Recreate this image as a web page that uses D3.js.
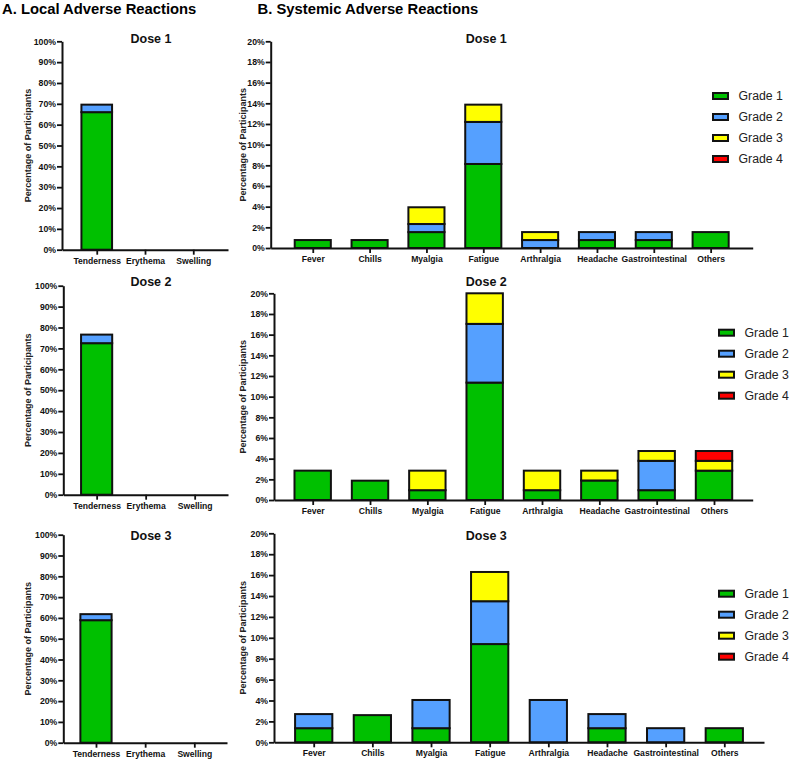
<!DOCTYPE html>
<html>
<head>
<meta charset="utf-8">
<script src="https://cdn.jsdelivr.net/npm/d3@7"></script>
<style>
  body { margin: 0; background: #fff; }
  text { font-family: "Liberation Sans", Arial, sans-serif; }
</style>
</head>
<body>
<script>
// categories + tick values
var localCats = ["Tenderness", "Erythema", "Swelling"];
var sysCats = ["Fever", "Chills", "Myalgia", "Fatigue", "Arthralgia", "Headache", "Gastrointestinal", "Others"];
var grades = ["Grade 1", "Grade 2", "Grade 3", "Grade 4"];
var gradeColors = ["#00c000", "#55a0ff", "#ffff00", "#ff0000"];
var localTicks = [0, 10, 20, 30, 40, 50, 60, 70, 80, 90, 100];
var sysTicks = [0, 2, 4, 6, 8, 10, 12, 14, 16, 18, 20];

// % of participants, one row per category: [grade1, grade2, grade3, grade4]
var localDose1 = [[66, 3.6, 0, 0], [0, 0, 0, 0], [0, 0, 0, 0]];
var localDose2 = [[72.5, 4.1, 0, 0], [0, 0, 0, 0], [0, 0, 0, 0]];
var localDose3 = [[58.9, 2.9, 0, 0], [0, 0, 0, 0], [0, 0, 0, 0]];

var sysDose1 = [
  [0.77, 0, 0, 0],
  [0.77, 0, 0, 0],
  [1.54, 0.78, 1.62, 0],
  [8.13, 4.07, 1.67, 0],
  [0, 0.77, 0.77, 0],
  [0.77, 0.77, 0, 0],
  [0.77, 0.77, 0, 0],
  [1.54, 0, 0, 0]
];
var sysDose2 = [
  [2.84, 0, 0, 0],
  [1.87, 0, 0, 0],
  [0.95, 0, 1.89, 0],
  [11.36, 5.68, 2.96, 0],
  [0.95, 0, 1.89, 0],
  [1.89, 0, 0.95, 0],
  [0.95, 2.84, 0.95, 0],
  [2.84, 0, 0.95, 0.95]
];
var sysDose3 = [
  [1.35, 1.35, 0, 0],
  [2.6, 0, 0, 0],
  [1.35, 2.7, 0, 0],
  [9.4, 4.1, 2.8, 0],
  [0, 4.05, 0, 0],
  [1.35, 1.35, 0, 0],
  [0, 1.35, 0, 0],
  [1.35, 0, 0, 0]
];

var width = 791, height = 760;

var svg = d3.select("body")
  .append("svg")
  .attr("width", width)
  .attr("height", height);

// layout of each panel (pixels)
var localLayout = [
  {x0: 62, x1: 228, yTop: 41.3, yBot: 249.7, pad: 0.72, titleY: 43},
  {x0: 63.3, x1: 228, yTop: 285.7, yBot: 494.7, pad: 0.68, titleY: 286},
  {x0: 63.3, x1: 227, yTop: 534.7, yBot: 742.7, pad: 0.665, titleY: 539.5}
];
var sysLayout = [
  {x0: 270.7, x1: 752.7, yTop: 41.3, yBot: 248, pad: 0.74, titleY: 43.3, legX: 713, legY: 96},
  {x0: 274, x1: 752.7, yTop: 293.3, yBot: 500, pad: 0.675, titleY: 286, legX: 719, legY: 332.7},
  {x0: 274, x1: 764, yTop: 533.3, yBot: 742.3, pad: 0.677, titleY: 540, legX: 719, legY: 593.7}
];

svg.append("text")
  .attr("x", 2).attr("y", 13.5)
  .style("font-size", "14.8px").style("font-weight", "bold")
  .text("A. Local Adverse Reactions");
svg.append("text")
  .attr("x", 257.5).attr("y", 13.5)
  .style("font-size", "14.8px").style("font-weight", "bold")
  .text("B. Systemic Adverse Reactions");

function drawPanel(lay, cats, rows, ticks, maxV, title, titleX, labelX, legend) {
  var g = svg.append("g");

  var x = d3.scalePoint().domain(cats).range([lay.x0, lay.x1]).padding(lay.pad);
  var y = d3.scaleLinear().domain([0, maxV]).range([lay.yBot, lay.yTop]);
  var bw = x.step() * 0.635;

  var table = rows.map(function(r, i) {
    var o = {cat: cats[i]};
    grades.forEach(function(gr, j) { o[gr] = r[j]; });
    return o;
  });
  var series = d3.stack().keys(grades)(table);

  series.forEach(function(s, j) {
    g.selectAll(".seg" + j)
      .data(s.filter(function(d) { return d[1] - d[0] > 0; }))
      .enter().append("rect")
      .attr("x", function(d) { return x(d.data.cat) - bw / 2; })
      .attr("y", function(d) { return y(d[1]); })
      .attr("width", bw)
      .attr("height", function(d) { return y(d[0]) - y(d[1]); })
      .attr("fill", gradeColors[j])
      .attr("stroke", "#111")
      .attr("stroke-width", 2);
  });

  var yAxis = g.append("g")
    .attr("transform", "translate(" + lay.x0 + ",0)")
    .call(d3.axisLeft(y).tickValues(ticks).tickFormat(function(d) { return d + "%"; })
      .tickSize(5).tickSizeOuter(0).tickPadding(1));
  var xAxis = g.append("g")
    .attr("transform", "translate(0," + lay.yBot + ")")
    .call(d3.axisBottom(x).tickSize(5).tickSizeOuter(0).tickPadding(3));

  [yAxis, xAxis].forEach(function(a) {
    a.select(".domain").attr("stroke", "#111").attr("stroke-width", 2);
    a.selectAll(".tick line").attr("stroke", "#111").attr("stroke-width", 1.8);
    a.selectAll("text").attr("fill", "#111")
      .style("font-weight", "bold").style("font-family", "'Liberation Sans', Arial, sans-serif");
  });
  yAxis.selectAll("text").style("font-size", "8.7px");
  xAxis.selectAll("text").style("font-size", "8.6px");

  g.append("text")
    .attr("transform", "translate(" + labelX + "," + (lay.yTop + lay.yBot) / 2 + ") rotate(-90)")
    .attr("text-anchor", "middle")
    .attr("dy", "0.35em")
    .style("font-size", "9px").style("font-weight", "bold").attr("fill", "#222")
    .text("Percentage of Participants");

  g.append("text")
    .attr("x", titleX).attr("y", lay.titleY)
    .attr("text-anchor", "middle")
    .style("font-size", "12.5px").style("font-weight", "bold").attr("fill", "#111")
    .text(title);

  if (legend) {
    var leg = g.append("g");
    grades.forEach(function(gr, j) {
      var cy = lay.legY + j * 21;
      leg.append("rect")
        .attr("x", lay.legX).attr("y", cy - 3)
        .attr("width", 15).attr("height", 6)
        .attr("fill", gradeColors[j])
        .attr("stroke", "#111").attr("stroke-width", 2);
      leg.append("text")
        .attr("x", lay.legX + 25.5).attr("y", cy)
        .attr("dy", "0.36em")
        .style("font-size", "12.3px").attr("fill", "#222")
        .text(gr);
    });
  }
}

var localData = [localDose1, localDose2, localDose3];
var sysData = [sysDose1, sysDose2, sysDose3];

localData.forEach(function(d, i) {
  drawPanel(localLayout[i], localCats, d, localTicks, 100, "Dose " + (i + 1), 151, 28, false);
});
sysData.forEach(function(d, i) {
  drawPanel(sysLayout[i], sysCats, d, sysTicks, 20, "Dose " + (i + 1), 486.3, 242.7, true);
});
</script>
</body>
</html>
